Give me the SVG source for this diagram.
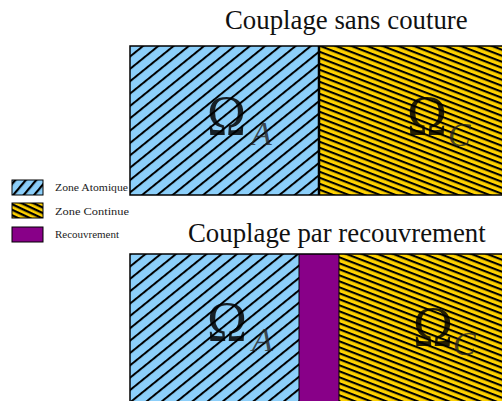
<svg xmlns="http://www.w3.org/2000/svg" width="502" height="401" viewBox="0 0 502 401">
<defs>
<style>
.title{font-family:"Liberation Serif","Times New Roman",serif;font-size:26.8px;fill:#111}
.omega{font-family:"Liberation Serif","Times New Roman",serif;font-size:56px;fill:#000;fill-opacity:0.85}
.sub{font-family:"Liberation Serif","Times New Roman",serif;font-style:italic;font-size:34px;fill:#222;fill-opacity:0.8}
.leg{font-family:"Liberation Serif","Times New Roman",serif;font-size:9.5px;fill:#222}
.edge{stroke:#000;stroke-width:1.5}
</style>
<pattern id="hatchA" patternUnits="userSpaceOnUse" width="20" height="9.6" patternTransform="rotate(-39)">
<rect width="20" height="9.6" fill="#8ccffa"/>
<rect y="0" width="20" height="2" fill="#000"/>
</pattern>
<pattern id="hatchC" patternUnits="userSpaceOnUse" width="20" height="5.6" patternTransform="rotate(21)">
<rect width="20" height="5.6" fill="#ffd200"/>
<rect y="0" width="20" height="2.1" fill="#000"/>
</pattern>
<pattern id="legA" patternUnits="userSpaceOnUse" width="20" height="8" patternTransform="translate(14 180) rotate(-50)">
<rect width="20" height="8" fill="#8ccffa"/>
<rect width="20" height="2.2" fill="#000"/>
</pattern>
<pattern id="legC" patternUnits="userSpaceOnUse" width="20" height="5" patternTransform="translate(12 203) rotate(25)">
<rect width="20" height="5" fill="#ffd200"/>
<rect width="20" height="2.3" fill="#000"/>
</pattern>
</defs>
<rect width="502" height="401" fill="#fff"/>

<g id="top-coupling">
<text class="title" x="225" y="29">Couplage sans couture</text>
<g id="top-atomic">
<rect x="130" y="46" width="189" height="149" fill="url(#hatchA)"/>
<text class="omega" x="207" y="135" textLength="39" lengthAdjust="spacingAndGlyphs">Ω</text>
<text class="sub" x="251" y="145">A</text>
</g>
<g id="top-continuum">
<rect x="319" y="46" width="190" height="149" fill="url(#hatchC)"/>
<text class="omega" x="407" y="135" textLength="40" lengthAdjust="spacingAndGlyphs">Ω</text>
<text class="sub" x="448" y="146">C</text>
</g>
<path class="edge" d="M505 46 H130 V195 H505" fill="none"/>
<line x1="319" y1="46" x2="319" y2="195" stroke="#000" stroke-width="2.5"/>
</g>

<g id="bottom-coupling">
<text class="title" x="188" y="242">Couplage par recouvrement</text>
<g id="bottom-atomic">
<rect x="130" y="254" width="169" height="150" fill="url(#hatchA)"/>
<text class="omega" x="207" y="341" textLength="40" lengthAdjust="spacingAndGlyphs">Ω</text>
<text class="sub" x="252" y="351">A</text>
</g>
<g id="bottom-overlap">
<rect x="299" y="254" width="40" height="150" fill="#880088"/>
</g>
<g id="bottom-continuum">
<rect x="339" y="254" width="170" height="150" fill="url(#hatchC)"/>
<text class="omega" x="413" y="346" textLength="40" lengthAdjust="spacingAndGlyphs">Ω</text>
<text class="sub" x="453" y="355">C</text>
</g>
<path class="edge" d="M505 254 H130 V404" fill="none"/>
<line x1="299" y1="254" x2="299" y2="404" stroke="#000" stroke-width="1"/>
<line x1="339" y1="254" x2="339" y2="404" stroke="#000" stroke-width="1"/>
</g>

<g id="legend">
<g id="legend-atomic">
<rect x="12" y="180" width="31" height="15" fill="url(#legA)" stroke="#000" stroke-width="1"/>
<text class="leg" x="55" y="191" textLength="73" lengthAdjust="spacingAndGlyphs">Zone Atomique</text>
</g>
<g id="legend-continuum">
<rect x="12" y="203" width="31" height="15" fill="url(#legC)" stroke="#000" stroke-width="1"/>
<text class="leg" x="55" y="215" textLength="74" lengthAdjust="spacingAndGlyphs">Zone Continue</text>
</g>
<g id="legend-overlap">
<rect x="12" y="227" width="31" height="15" fill="#880088" stroke="#000" stroke-width="1"/>
<text class="leg" x="55" y="238" textLength="64" lengthAdjust="spacingAndGlyphs">Recouvrement</text>
</g>
</g>
</svg>
